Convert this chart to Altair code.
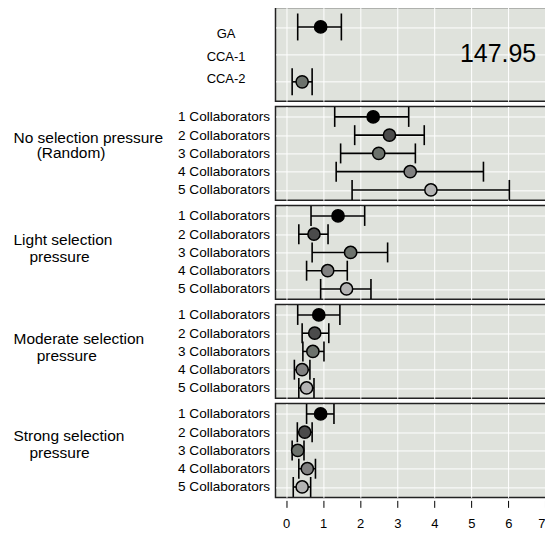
import altair as alt
import pandas as pd
import json

# ---------------- data ----------------
x_ticks = [0, 1, 2, 3, 4, 5, 6, 7]
x_domain = [-0.29, 7.533]

shade_keys = [1, 2, 3, 4, 5]
shade_colors = ["#000000", "#4b4b4b", "#6c726c", "#808080", "#b3b3b3"]

top_rows = ["GA", "CCA-1", "CCA-2"]
top_mean = [0.93, None, 0.43]
top_low = [0.31, None, 0.16]
top_high = [1.49, None, 0.70]
top_shade = [1, 2, 3]
top_offscale_row = "CCA-1"
top_offscale_value = 147.95

collab_rows = ["1 Collaborators", "2 Collaborators", "3 Collaborators",
               "4 Collaborators", "5 Collaborators"]

ZW = "\u200b"
group_titles = [
    ["No selection pressure", ZW + "\u2002\u2002\u2002(Random)"],
    ["Light selection", ZW + "\u00a0\u00a0\u00a0\u2009pressure"],
    ["Moderate selection", ZW + "\u2002\u2002\u2002pressure"],
    ["Strong selection", ZW + "\u00a0\u00a0\u00a0\u2009pressure"],
]
no_mean = [2.35, 2.79, 2.50, 3.35, 3.91]
no_low = [1.31, 1.85, 1.47, 1.35, 1.78]
no_high = [3.31, 3.73, 3.49, 5.33, 6.03]

light_mean = [1.40, 0.75, 1.74, 1.12, 1.63]
light_low = [0.67, 0.34, 0.70, 0.55, 0.93]
light_high = [2.12, 1.13, 2.74, 1.65, 2.29]

mod_mean = [0.88, 0.77, 0.72, 0.43, 0.55]
mod_low = [0.31, 0.43, 0.45, 0.22, 0.34]
mod_high = [1.45, 1.15, 1.02, 0.64, 0.75]

strong_mean = [0.93, 0.50, 0.31, 0.57, 0.43]
strong_low = [0.55, 0.30, 0.16, 0.34, 0.19]
strong_high = [1.29, 0.70, 0.48, 0.79, 0.66]

group_means = [no_mean, light_mean, mod_mean, strong_mean]
group_lows = [no_low, light_low, mod_low, strong_low]
group_highs = [no_high, light_high, mod_high, strong_high]
group_title_y = [36, 39, 38.8, 36.7]
group_line_h = [15.5, 17, 17, 17]

# ---------------- layout / style ----------------
W = 290
H = 94
FONT = "Liberation Sans"
color_scale = alt.Scale(domain=shade_keys, range=shade_colors)


def x_axis(bottom):
    if bottom:
        return alt.Axis(values=x_ticks, title=None, grid=True, gridColor="white",
                        gridWidth=1, domain=False, ticks=True, tickSize=7,
                        tickColor="black", tickWidth=1, offset=3,
                        labelFontSize=13, labelPadding=10, labelColor="black",
                        labelFont=FONT, labelOverlap=False,
                        labelOffset={"condition": {"test": "datum.value >= 7",
                                                   "value": -4},
                                     "value": 0})
    return alt.Axis(values=x_ticks, title=None, grid=True, gridColor="white",
                    gridWidth=1, domain=False, ticks=False, labels=False)


def panel(df, n, y_axis, pad, cap, bottom, extra=None):
    ys = alt.Scale(domain=[-pad, n - 1 + pad], reverse=True, nice=False, zero=False)
    xs = alt.Scale(domain=x_domain, nice=False, zero=False)
    xa = x_axis(bottom)
    base = alt.Chart(df)
    rule = base.mark_rule(color="black", strokeWidth=1.6).encode(
        x=alt.X("low:Q", scale=xs, axis=xa),
        x2="high:Q",
        y=alt.Y("idx:Q", scale=ys, axis=y_axis),
    )
    caps_lo = base.mark_tick(color="black", size=cap, thickness=1.6, opacity=1,
                             orient="vertical").encode(
        x=alt.X("low:Q", scale=xs, axis=xa),
        y=alt.Y("idx:Q", scale=ys, axis=y_axis))
    caps_hi = base.mark_tick(color="black", size=cap, thickness=1.6, opacity=1,
                             orient="vertical").encode(
        x=alt.X("high:Q", scale=xs, axis=xa),
        y=alt.Y("idx:Q", scale=ys, axis=y_axis))
    pts = base.mark_circle(size=150, stroke="black", strokeWidth=1.5, opacity=1).encode(
        x=alt.X("mean:Q", scale=xs, axis=xa),
        y=alt.Y("idx:Q", scale=ys, axis=y_axis),
        color=alt.Color("shade:O", scale=color_scale, legend=None),
    )
    layers = [rule, caps_lo, caps_hi, pts]
    if extra is not None:
        layers.append(extra(xs, ys, y_axis))
    return alt.layer(*layers).properties(width=W, height=H)


# top panel
top_df = pd.DataFrame({"row": top_rows, "idx": range(len(top_rows)),
                       "mean": top_mean, "low": top_low,
                       "high": top_high, "shade": top_shade}).dropna()
top_axis = alt.Axis(values=list(range(len(top_rows))), title=top_rows,
                    titleAngle=0, titleAlign="center", titleX=-50,
                    titleY=30.3, titleFontSize=13, titleFontWeight="normal",
                    titleLineHeight=22.5, titleBaseline="alphabetic",
                    titleColor="black", titleFont=FONT, labels=False, ticks=False,
                    domain=False, grid=True, gridColor="white", gridWidth=1)


def offscale_text(xs, ys, y_axis):
    d = pd.DataFrame({"idx": [top_rows.index(top_offscale_row)],
                      "v": [top_offscale_value]})
    return alt.Chart(d).mark_text(fontSize=25, align="center", baseline="middle",
                                  color="black", font=FONT).encode(
        x=alt.value(223),
        y=alt.Y("idx:Q", scale=ys, axis=y_axis),
        text=alt.Text("v:Q", format=".2f"),
    )


panels = [panel(top_df, len(top_rows), top_axis, 0.71, 27, False, offscale_text)]

label_expr = json.dumps(collab_rows) + "[datum.value]"
for i in range(4):
    df = pd.DataFrame({"row": collab_rows, "idx": range(len(collab_rows)),
                       "mean": group_means[i],
                       "low": group_lows[i], "high": group_highs[i],
                       "shade": shade_keys})
    ax = alt.Axis(values=list(range(len(collab_rows))), labelExpr=label_expr,
                  title=group_titles[i], titleAngle=0, titleAlign="left",
                  titleX=-263, titleY=group_title_y[i], titleFontSize=15.5,
                  titleFontWeight="normal", titleLineHeight=group_line_h[i],
                  titleBaseline="alphabetic", titleColor="black", titleFont=FONT,
                  labelFontSize=13.6, labelPadding=6, labelColor="black",
                  labelFont=FONT, labelBaseline="middle", labelOverlap=False,
                  ticks=False, domain=False, grid=True,
                  gridColor="white", gridWidth=1)
    panels.append(panel(df, len(collab_rows), ax, 0.57, 20, i == 3))

chart = alt.vconcat(*panels, spacing=3.2).properties(
    padding={"left": 4, "top": -2, "right": -21, "bottom": 0}
).configure(font=FONT).configure_view(
    fill="#dfe2dc", stroke="#222222", strokeWidth=1.5
)

chart.save("out.html", embed_options={"renderer": "svg", "actions": False})
